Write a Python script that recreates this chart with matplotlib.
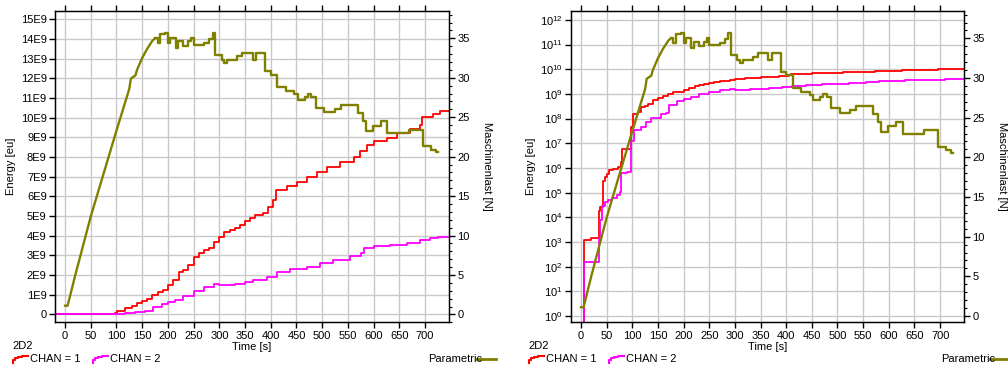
import matplotlib
matplotlib.use("Agg")
import matplotlib.pyplot as plt
from matplotlib.lines import Line2D
from matplotlib.ticker import MultipleLocator, LogLocator, LogFormatterSciNotation, NullLocator
import numpy as np

plt.rcParams['font.family'] = ['Liberation Sans', 'DejaVu Sans']
plt.rcParams['mathtext.fontset'] = 'custom'
plt.rcParams['mathtext.rm'] = 'Liberation Sans'
plt.rcParams['mathtext.it'] = 'Liberation Sans'
plt.rcParams['mathtext.bf'] = 'Liberation Sans'

# Daten
t_chan1 = [-20, 6.5, 20, 35, 38, 42, 46, 50, 54, 63, 72, 78, 80, 97, 101, 111, 117,
           125, 130, 140, 150, 160, 170, 180, 190, 200, 210, 222, 230, 240, 250, 260,
           270, 280, 290, 300, 310, 320, 330, 340, 350, 360, 370, 385, 395, 405, 410,
           431, 451, 470, 490, 510, 535, 561, 574, 587, 600, 626, 645, 671, 690, 695,
           716, 729, 750]
e_chan1 = [0, 1.2e3, 1.4e3, 1.8e4, 2.5e4, 3e5, 4.2e5, 5.7e5, 8e5, 9.3e5, 1.07e6, 1.7e6,
           6e6, 4.5e7, 1.6e8, 1.8e8, 3e8, 3.3e8, 4e8, 5.6e8, 7e8, 8e8, 1.0e9, 1.15e9,
           1.25e9, 1.5e9, 1.75e9, 2.15e9, 2.25e9, 2.5e9, 2.9e9, 3.1e9, 3.25e9, 3.35e9,
           3.7e9, 3.95e9, 4.2e9, 4.3e9, 4.4e9, 4.55e9, 4.75e9, 4.9e9, 5.05e9, 5.15e9,
           5.45e9, 5.8e9, 6.3e9, 6.5e9, 6.75e9, 7.0e9, 7.25e9, 7.5e9, 7.75e9, 8.0e9,
           8.3e9, 8.6e9, 8.8e9, 8.95e9, 9.2e9, 9.4e9, 9.6e9, 10.05e9, 10.2e9, 10.35e9,
           10.35e9]

t_chan2 = [-20, 6.5, 35, 38, 41, 46, 52, 60, 70, 76, 78, 90, 97, 104, 117, 127, 137,
           156, 166, 172, 188, 200, 214, 230, 250, 270, 290, 300, 330, 350, 366, 392,
           412, 438, 470, 496, 522, 555, 575, 581, 600, 632, 665, 690, 710, 726, 750]
e_chan2 = [0, 160, 1.5e3, 8e3, 3e4, 4e4, 5e4, 6e4, 8e4, 1.1e5, 6e5, 7e5, 1.2e7, 3.5e7,
           4.5e7, 7e7, 1.1e8, 1.5e8, 1.75e8, 3.7e8, 5e8, 6.4e8, 7.2e8, 9.5e8, 1.2e9,
           1.4e9, 1.55e9, 1.5e9, 1.55e9, 1.65e9, 1.75e9, 1.92e9, 2.17e9, 2.3e9, 2.42e9,
           2.6e9, 2.76e9, 2.95e9, 3.1e9, 3.36e9, 3.45e9, 3.53e9, 3.62e9, 3.78e9, 3.87e9,
           3.95e9, 3.95e9]

# Maschinenlast: Anstieg (fast gerade) und danach Stufen
t_ramp = [0, 5, 20, 50, 100, 125, 128, 137, 140, 150, 160, 170, 175]
last_ramp = [1.1, 1.1, 5.0, 12.4, 23.3, 28.6, 29.9, 30.3, 31.0, 32.5, 33.7, 34.7, 35.0]

t_steps = [175, 180, 185, 195, 200, 205, 215, 220, 230, 240, 245, 250, 270, 280, 287,
           292, 305, 310, 315, 335, 345, 360, 365, 372, 389, 400, 413, 429, 446, 453,
           466, 472, 479, 488, 504, 524, 537, 556, 569, 579, 585, 598, 614, 627, 669,
           696, 712, 722, 725]
last_steps = [35.0, 34.4, 35.6, 35.7, 34.4, 35.1, 33.8, 34.6, 34.0, 34.6, 35.1, 34.2,
              34.4, 34.9, 35.7, 32.9, 32.3, 31.9, 32.3, 32.7, 33.1, 33.1, 32.3, 33.1,
              30.8, 30.4, 28.8, 28.3, 27.9, 27.2, 27.6, 28.0, 27.6, 26.2, 25.6, 26.0,
              26.5, 26.5, 25.5, 24.5, 23.2, 23.9, 24.5, 23.0, 23.4, 21.3, 20.9, 20.6, 20.6]

lin_ticks = [i * 1e9 for i in range(16)]
lin_labels = ['0'] + [f'{i}E9' for i in range(1, 16)]

C_RED = '#ff0000'
C_MAG = '#ff00ff'
C_OLIVE = '#808000'
GRID = '#c8c8c8'
FS = 8

W, H = 1008, 370
fig = plt.figure(figsize=(W / 100, H / 100), dpi=100)


def px(x, y):
    return x / W, 1 - y / H


def style_axes(ax, axr):
    ax.set_xlim(-19.5, 746.6)
    ax.xaxis.set_major_locator(MultipleLocator(50))
    ax.grid(True, color=GRID, lw=1)
    ax.set_axisbelow(True)
    ax.tick_params(axis='x', direction='out', length=4, width=1, top=True,
                   labelsize=FS, pad=2)
    ax.tick_params(axis='y', direction='out', length=4, width=1, labelsize=FS, pad=2)
    ax.set_xlabel('Time [s]', fontsize=FS, labelpad=1)
    ax.set_ylabel('Energy [eu]', fontsize=FS, labelpad=3)
    for sp in ax.spines.values():
        sp.set_linewidth(1)
    axr.yaxis.set_major_locator(MultipleLocator(5))
    axr.yaxis.set_minor_locator(MultipleLocator(1))
    axr.tick_params(axis='y', which='major', direction='out', length=4, width=1,
                    labelsize=FS, pad=2)
    axr.tick_params(axis='y', which='minor', direction='out', length=2.5, width=0.8)
    axr.set_ylabel('Maschinenlast [N]', fontsize=FS, rotation=-90, va='bottom',
                   labelpad=9)


def draw_last(axr):
    axr.plot(t_ramp, last_ramp, color=C_OLIVE, lw=1.7)
    axr.step(t_steps, last_steps, where='post', color=C_OLIVE, lw=1.7)


# linke Grafik (linear)
ax1 = fig.add_axes([55 / W, 1 - 322.3 / H, 394 / W, 311.3 / H])
ax1.step(t_chan1, e_chan1, where='post', color=C_RED, lw=1.3)
ax1.step(t_chan2, e_chan2, where='post', color=C_MAG, lw=1.3)
ax1.set_ylim(-0.407e9, 15.42e9)
ax1.set_yticks(lin_ticks)
ax1.set_yticklabels(lin_labels)
ax1r = ax1.twinx()
draw_last(ax1r)
ax1r.set_ylim(-1.0, 38.46)
style_axes(ax1, ax1r)

# rechte Grafik (logarithmisch)
ax2 = fig.add_axes([571 / W, 1 - 322.3 / H, 393 / W, 311.3 / H])
ax2.set_yscale('log')
ax2.step(t_chan1, e_chan1, where='post', color=C_RED, lw=1.3)
ax2.step(t_chan2, e_chan2, where='post', color=C_MAG, lw=1.3)
ax2.set_ylim(10 ** -0.255, 10 ** 12.36)
ax2.yaxis.set_major_locator(LogLocator(base=10, numticks=20))
ax2.yaxis.set_major_formatter(LogFormatterSciNotation())
ax2.yaxis.set_minor_locator(NullLocator())
ax2r = ax2.twinx()
draw_last(ax2r)
ax2r.set_ylim(-0.8, 38.45)
style_axes(ax2, ax2r)


# Legenden
def glyph(x0, y0, color):
    dx = np.array([0, 0, 2, 2, 5, 5, 9, 9, 15])
    dy = np.array([7, 4, 4, 2, 2, 1, 1, 0, 0])
    xs = (x0 + dx) / W
    ys = 1 - (y0 + dy) / H
    fig.add_artist(Line2D(xs, ys, color=color, lw=1.5, transform=fig.transFigure))


for x0, xp in [(12, 428), (528, 941)]:
    fig.text(*px(x0, 346), '2D2', fontsize=FS, va='center', ha='left')
    glyph(x0 + 1, 356, C_RED)
    fig.text(*px(x0 + 18, 359), 'CHAN = 1', fontsize=FS, va='center', ha='left')
    glyph(x0 + 81, 356, C_MAG)
    fig.text(*px(x0 + 98, 359), 'CHAN = 2', fontsize=FS, va='center', ha='left')
    fig.text(*px(xp, 359), 'Parametric', fontsize=FS, va='center', ha='left')
    fig.add_artist(Line2D([(xp + 49) / W, (xp + 68) / W], [1 - 359 / H, 1 - 359 / H],
                          color=C_OLIVE, lw=2, transform=fig.transFigure))

fig.savefig('out.png', dpi=100)
